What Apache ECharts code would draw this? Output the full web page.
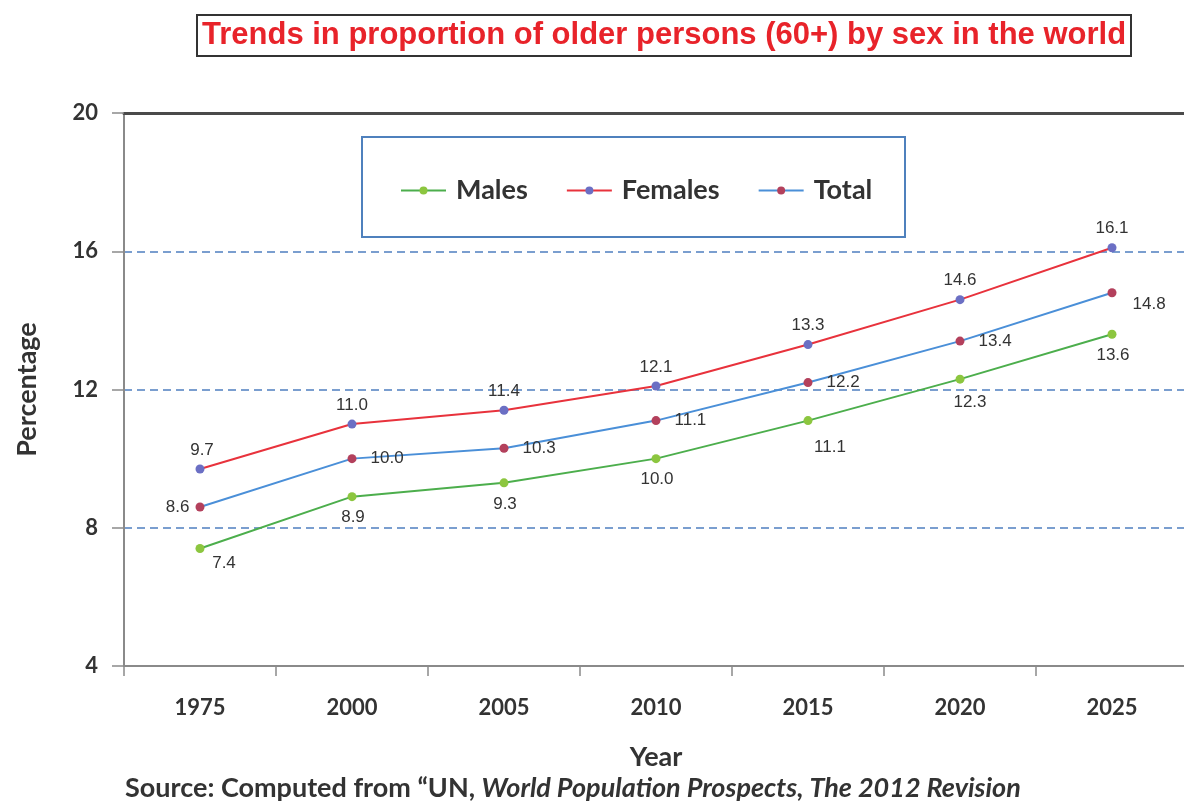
<!DOCTYPE html>
<html>
<head>
<meta charset="utf-8">
<script src="https://cdn.jsdelivr.net/npm/echarts@6/dist/echarts.min.js"></script>
<style>
html,body{margin:0;padding:0;background:#fff;}
#c{width:1184px;height:803px;}
</style>
</head>
<body>
<div id="c"></div>
<script>
const years = ['1975','2000','2005','2010','2015','2020','2025'];
const males = [7.4, 8.9, 9.3, 10.0, 11.1, 12.3, 13.6];
const females = [9.7, 11.0, 11.4, 12.1, 13.3, 14.6, 16.1];
const total = [8.6, 10.0, 10.3, 11.1, 12.2, 13.4, 14.8];

const FONT = 'Lato,"Open Sans",sans-serif';
const labelFont = {fontFamily:'"Liberation Sans Narrow","Liberation Sans",Arial,sans-serif', fontSize:17, color:'#333'};
const fmt = p => Number(p.value).toFixed(1);

function withLabels(vals, cfgFn){
  return vals.map((v,i)=>({value:v, label:cfgFn(i)}));
}

const chart = echarts.init(document.getElementById('c'));
chart.setOption({
  animation:false,
  backgroundColor:'#fff',
  title:{
    text:'Trends in proportion of older persons (60+) by sex in the world',
    left:197, top:15,
    padding:[5,5,5,5],
    borderColor:'#333', borderWidth:2,
    textStyle:{color:'#e8232a', fontFamily:'"Liberation Sans",Arial,sans-serif', fontWeight:'bold', fontSize:31}
  },
  graphic:[
    {type:'rect', shape:{x:362,y:137,width:543,height:100}, style:{fill:'#fff',stroke:'#4f81bd',lineWidth:2}, z:1},
    {type:'text', left:125, top:775, style:{
      rich:{
        a:{fontFamily:FONT, fontWeight:'bold', fontSize:27, fill:'#333'},
        b:{fontFamily:FONT, fontWeight:'bold', fontStyle:'italic', fontSize:27, fill:'#333'}
      },
      text:'{a|Source: Computed from \u201cUN, }{b|World Population Prospects, The 2012 Revision}'
    }}
  ],
  legend:{
    left:395, top:172, z:5,
    itemWidth:45, itemHeight:10, itemGap:38,
    textStyle:{fontFamily:FONT, fontWeight:'bold', fontSize:27, color:'#333', padding:[0,0,0,5]},
    data:['Males','Females','Total']
  },
  grid:{left:124, right:-4, top:113, bottom:137, containLabel:false, outerBoundsMode:'none'},
  xAxis:[{
    type:'category', data:years, boundaryGap:true,
    name:'Year', nameLocation:'middle', nameGap:78,
    nameTextStyle:{fontFamily:FONT, fontWeight:'bold', fontSize:27, color:'#333'},
    axisLine:{lineStyle:{color:'#8a8a8a', width:2}},
    axisTick:{show:true, length:10, lineStyle:{color:'#8a8a8a', width:1.5}},
    axisLabel:{margin:31, fontFamily:FONT, fontWeight:'bold', fontSize:22, color:'#333'}
  },{
    type:'category', data:years, position:'top',
    axisLine:{lineStyle:{color:'#4a4a4a', width:3}},
    axisTick:{show:false}, axisLabel:{show:false}
  }],
  yAxis:{
    type:'value', min:4, max:20, interval:4,
    name:'Percentage', nameLocation:'middle', nameGap:83, nameRotate:90,
    nameTextStyle:{fontFamily:FONT, fontWeight:'bold', fontSize:27, color:'#333'},
    axisLine:{show:true, lineStyle:{color:'#8a8a8a', width:2}},
    axisTick:{show:true, length:12, lineStyle:{color:'#8a8a8a', width:1.5}},
    axisLabel:{margin:26, fontFamily:FONT, fontWeight:'bold', fontSize:22, color:'#333'},
    splitLine:{show:true, lineStyle:{color:'#4f7fc0', type:[8,5], width:1.5}}
  },
  series:[
    {
      name:'Males', type:'line', symbol:'circle', symbolSize:9,
      lineStyle:{color:'#4cae4c', width:2},
      itemStyle:{color:'#8cc63f'},
      label:{show:true, formatter:fmt, ...labelFont},
      data:withLabels(males, i=>{
        if(i===0) return {position:'bottom', offset:[24,-2], distance:4};
        if(i===4) return {position:'bottom', offset:[22,6], distance:8};
        if(i===5) return {position:'bottom', offset:[10,2], distance:8};
        return {position:'bottom', offset:[1,0], distance:8};
      })
    },
    {
      name:'Females', type:'line', symbol:'circle', symbolSize:9,
      lineStyle:{color:'#e8323c', width:2},
      itemStyle:{color:'#6b6fc4'},
      label:{show:true, formatter:fmt, position:'top', distance:6, ...labelFont},
      data:withLabels(females, i=>({position:'top', distance:6, offset:[i===0?2:0,0]}))
    },
    {
      name:'Total', type:'line', symbol:'circle', symbolSize:9,
      lineStyle:{color:'#4a8fd8', width:2},
      itemStyle:{color:'#b3405c'},
      label:{show:true, formatter:fmt, ...labelFont},
      data:withLabels(total, i=>{
        if(i===0) return {position:'left', distance:6};
        if(i===6) return {position:'right', distance:16, offset:[0,12]};
        return {position:'right', distance:14};
      })
    }
  ]
});
</script>
</body>
</html>
